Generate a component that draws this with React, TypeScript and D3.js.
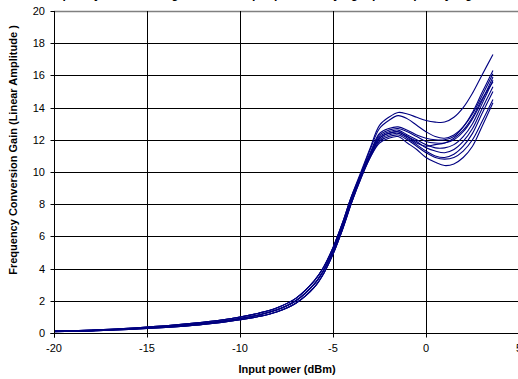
import React from "react";
import * as d3 from "d3";

const W = 518;
const H = 379;

// input power (dBm), shared low-power region
const xLow = [-20, -19, -18, -17, -16, -15, -14, -13, -12, -11, -10, -9, -8, -7, -6, -5.5, -5, -4.5, -4];
const lowA = [0.08, 0.1, 0.13, 0.17, 0.22, 0.28, 0.35, 0.43, 0.53, 0.66, 0.82, 1.02, 1.32, 1.85, 2.85, 3.7, 4.9, 6.4, 8.1];
const lowB = [0.1, 0.12, 0.15, 0.2, 0.25, 0.32, 0.4, 0.49, 0.6, 0.73, 0.9, 1.12, 1.44, 2.0, 3.05, 3.9, 5.1, 6.6, 8.3];
const lowC = [0.12, 0.14, 0.18, 0.23, 0.29, 0.37, 0.45, 0.55, 0.67, 0.81, 0.99, 1.23, 1.57, 2.15, 3.25, 4.1, 5.3, 6.8, 8.5];

// input power (dBm), high-power region
const xHigh = [-3.5, -3, -2.5, -2, -1.5, -1, -0.5, 0, 0.5, 1, 1.5, 2, 2.5, 3, 3.6];
const highA = [10.0, 11.5, 12.9, 13.4, 13.7, 13.6, 13.4, 13.2, 13.1, 13.1, 13.4, 14.0, 14.9, 16.0, 17.3];
const highB = [9.9, 11.4, 12.7, 13.2, 13.5, 13.3, 12.9, 12.5, 12.2, 12.1, 12.3, 12.8, 13.7, 14.9, 16.3];
const highC = [9.9, 11.2, 12.4, 12.7, 12.8, 12.6, 12.3, 12.1, 12.0, 12.0, 12.2, 12.8, 13.6, 14.7, 16.1];
const highD = [9.8, 11.1, 12.3, 12.6, 12.7, 12.5, 12.2, 11.9, 11.8, 11.8, 12.0, 12.5, 13.3, 14.4, 15.9];
const highE = [9.8, 11.1, 12.2, 12.5, 12.6, 12.3, 12.0, 11.7, 11.5, 11.5, 11.7, 12.2, 13.0, 14.2, 15.7];
const highF = [9.7, 11.0, 12.1, 12.4, 12.5, 12.2, 11.9, 11.5, 11.3, 11.2, 11.4, 11.9, 12.7, 13.9, 15.3];
const highG = [9.7, 11.0, 12.0, 12.3, 12.4, 12.1, 11.7, 11.3, 11.0, 10.9, 11.1, 11.6, 12.4, 13.6, 15.0];
const highH = [9.6, 10.9, 11.9, 12.2, 12.3, 12.0, 11.6, 11.2, 10.9, 10.8, 10.9, 11.3, 12.0, 13.1, 14.5];
const highI = [9.6, 10.9, 11.8, 12.1, 12.2, 11.8, 11.4, 10.9, 10.6, 10.4, 10.5, 10.9, 11.6, 12.8, 14.3];
const highJ = [9.7, 11.0, 12.1, 12.4, 12.5, 12.2, 11.8, 11.6, 11.7, 11.8, 12.1, 12.6, 13.4, 14.5, 15.6];

const seriesLow = [lowC, lowC, lowB, lowB, lowB, lowA, lowB, lowA, lowA, lowC];
const seriesHigh = [highA, highB, highC, highD, highE, highF, highG, highH, highI, highJ];

const xTicks = [-20, -15, -10, -5, 0, 5];
const yTicks = [0, 2, 4, 6, 8, 10, 12, 14, 16, 18, 20];

const title = "Frequency conversion gain versus input power, varying input frequency, Vgs = -0.4 V, Vds = 1 V";
const xTitle = "Input power (dBm)";
const yTitle = "Frequency Conversion Gain (Linear Amplitude )";

export default function App() {
  const x = d3.scaleLinear().domain([-20, 5]).range([54, 519]);
  const y = d3.scaleLinear().domain([0, 20]).range([333, 11]);
  const line = d3
    .line<[number, number]>()
    .x((d) => x(d[0]))
    .y((d) => y(d[1]))
    .curve(d3.curveCatmullRom.alpha(0.5));

  const font = "Arial, 'Liberation Sans', sans-serif";
  const px = (v: number) => Math.round(x(v)) + 0.5;
  const py = (v: number) => Math.round(y(v)) + 0.5;

  return (
    <svg
      width={W}
      height={H}
      style={{ position: "absolute", left: 0, top: 0, background: "#fff" }}
      fontFamily={font}
    >
      <rect x={0} y={0} width={W} height={H} fill="#fff" />
      <text x={312} y={-2} textAnchor="middle" fontSize={12} fontWeight="bold" fill="#000">
        {title}
      </text>
      {/* horizontal gridlines */}
      {yTicks.slice(1).map((t) => (
        <line key={"h" + t} x1={x(-20)} x2={W} y1={py(t)} y2={py(t)} stroke={t === 20 ? "#808080" : "#000"} strokeWidth={t === 20 ? 1.5 : 1} />
      ))}
      {/* vertical gridlines */}
      {xTicks.slice(1).map((t) => (
        <line key={"v" + t} x1={px(t)} x2={px(t)} y1={y(20)} y2={y(0)} stroke="#000" strokeWidth={1} />
      ))}
      {/* series */}
      {seriesHigh.map((hi, i) => {
        const pts: [number, number][] = [
          ...xLow.map((xv, j) => [xv, seriesLow[i][j]] as [number, number]),
          ...xHigh.map((xv, j) => [xv, hi[j]] as [number, number]),
        ];
        return <path key={"s" + i} d={line(pts) || ""} fill="none" stroke="#000080" strokeWidth={1.1} />;
      })}
      {/* axes */}
      <line x1={px(-20)} x2={px(-20)} y1={y(20)} y2={py(0) + 4} stroke="#000" />
      <line x1={px(-20) - 4} x2={W} y1={py(0)} y2={py(0)} stroke="#000" />
      {yTicks.map((t) => (
        <g key={"yt" + t}>
          <line x1={px(-20) - 4} x2={px(-20)} y1={py(t)} y2={py(t)} stroke="#000" />
          <text x={45} y={y(t) + 4} textAnchor="end" fontSize={11} fill="#000">
            {t}
          </text>
        </g>
      ))}
      {xTicks.map((t) => (
        <g key={"xt" + t}>
          <line x1={px(t)} x2={px(t)} y1={py(0)} y2={py(0) + 4} stroke="#000" />
          <text x={x(t)} y={352} textAnchor="middle" fontSize={11} fill="#000">
            {t}
          </text>
        </g>
      ))}
      <text x={287} y={373} textAnchor="middle" fontSize={11} fontWeight="bold" fill="#000">
        {xTitle}
      </text>
      <text
        transform={`translate(17, 150) rotate(-90)`}
        textAnchor="middle"
        fontSize={11}
        fontWeight="bold"
        fill="#000"
      >
        {yTitle}
      </text>
    </svg>
  );
}
